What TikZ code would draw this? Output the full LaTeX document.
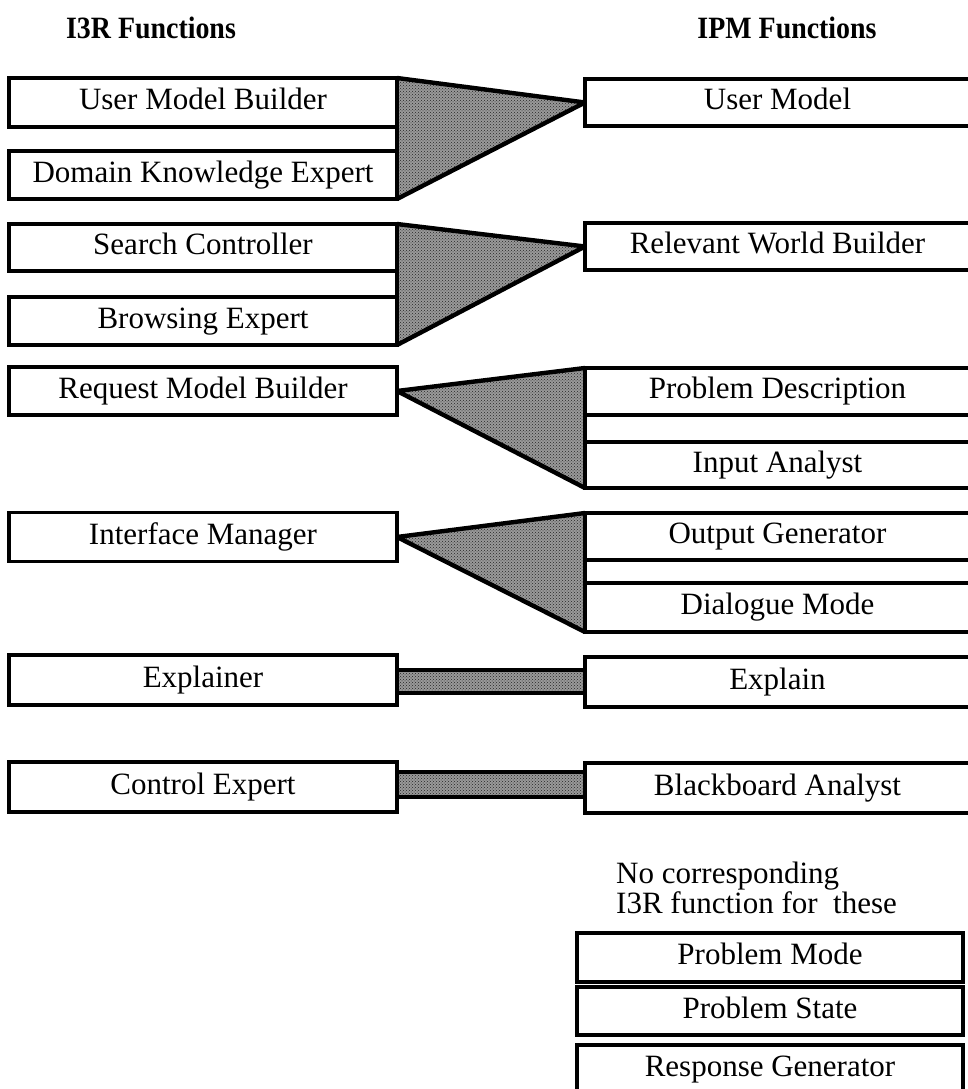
\documentclass[tikz,border=0pt]{standalone}
\usepackage{fontspec}
\setmainfont{Liberation Serif}
\newfontfamily\headfont[FakeStretch=0.9]{Liberation Serif}
\usetikzlibrary{patterns,calc,backgrounds}
\begin{document}
\begin{tikzpicture}[x=1pt,y=-1pt,
 box/.style={draw=black,line width=3.4pt,fill=white,inner sep=0pt,outer sep=0pt,text height=21pt,text depth=7pt,font=\fontsize{31}{36}\selectfont},
 lbox/.style={box,minimum width=388pt,minimum height=48pt},
 rbox/.style={box,minimum width=385pt,minimum height=47pt},
 sbox/.style={box,minimum width=386pt,minimum height=48pt},
 head/.style={font=\headfont\bfseries\fontsize{31}{34}\selectfont,inner sep=0pt},
 shade/.style={preaction={fill=black!40},pattern=crosshatch dots,pattern color=black!85},
 edge/.style={line width=4.4pt,line join=round},
 side/.style={line width=3.4pt},
]
\useasboundingbox (0,0) rectangle (968,1089);
\clip (0,0) rectangle (968,1089);

\node[head] (h1) at (151,28) {I3R Functions};
\node[head] (h2) at (787,28) {IPM Functions};

% left column
\node[lbox,minimum height=49pt] (umb) at (203,102.5) {User Model Builder};
\node[lbox] (dke) at (203,175) {Domain Knowledge Expert};
\node[lbox,minimum height=47pt] (sc) at (203,247.5) {Search Controller};
\node[lbox] (be) at (203,321) {Browsing Expert};
\node[lbox] (rmb) at (203,391) {Request Model Builder};
\node[lbox,minimum height=49pt] (im) at (203,537) {Interface Manager};
\node[lbox,minimum height=50pt] (ex) at (203,680) {Explainer};
\node[lbox,minimum height=50pt] (ce) at (203,787) {Control Expert};

% right column
\node[rbox] (um) at (777.5,102.5) {User Model};
\node[rbox] (rwb) at (777.5,246.5) {Relevant World Builder};
\node[rbox] (pd) at (777.5,391.5) {Problem Description};
\node[rbox,minimum height=46pt] (ia) at (777.5,465) {Input Analyst};
\node[rbox] (og) at (777.5,536.5) {Output Generator};
\node[rbox,minimum height=49pt] (dm) at (777.5,607.5) {Dialogue Mode};
\node[rbox,minimum height=50pt] (exp) at (777.5,682) {Explain};
\node[rbox,minimum height=50pt] (ba) at (777.5,788) {Blackboard Analyst};

% no counterpart
\node[anchor=west,align=left,inner sep=0pt,font=\fontsize{31}{30}\selectfont] (note) at (616,888) {No corresponding\\I3R function for\ \ these};
\node[sbox,minimum height=49pt] (pm) at (770,957.5) {Problem Mode};
\node[sbox] (ps) at (770,1011) {Problem State};
\node[sbox] (rg) at (770,1069) {Response Generator};

\begin{scope}[on background layer]
\fill[shade] (umb.north east) -- (um.west) -- (dke.south east) -- cycle;
\draw[edge] (umb.north east) -- (um.west) -- (dke.south east);
\draw[side] (umb.north east) -- (dke.south east);
\fill[shade] (sc.north east) -- (rwb.west) -- (be.south east) -- cycle;
\draw[edge] (sc.north east) -- (rwb.west) -- (be.south east);
\draw[side] (sc.north east) -- (be.south east);
\fill[shade] (pd.north west) -- (rmb.east) -- (ia.south west) -- cycle;
\draw[edge] (pd.north west) -- (rmb.east) -- (ia.south west);
\draw[side] (pd.north west) -- (ia.south west);
\fill[shade] (og.north west) -- (im.east) -- (dm.south west) -- cycle;
\draw[edge] (og.north west) -- (im.east) -- (dm.south west);
\draw[side] (og.north west) -- (dm.south west);
\filldraw[shade,side] ($(ex.east)+(0,-10)$) rectangle ($(exp.west)+(0,11)$);
\filldraw[shade,side] ($(ce.east)+(0,-15)$) rectangle ($(ba.west)+(0,9)$);
\end{scope}
\end{tikzpicture}
\end{document}
